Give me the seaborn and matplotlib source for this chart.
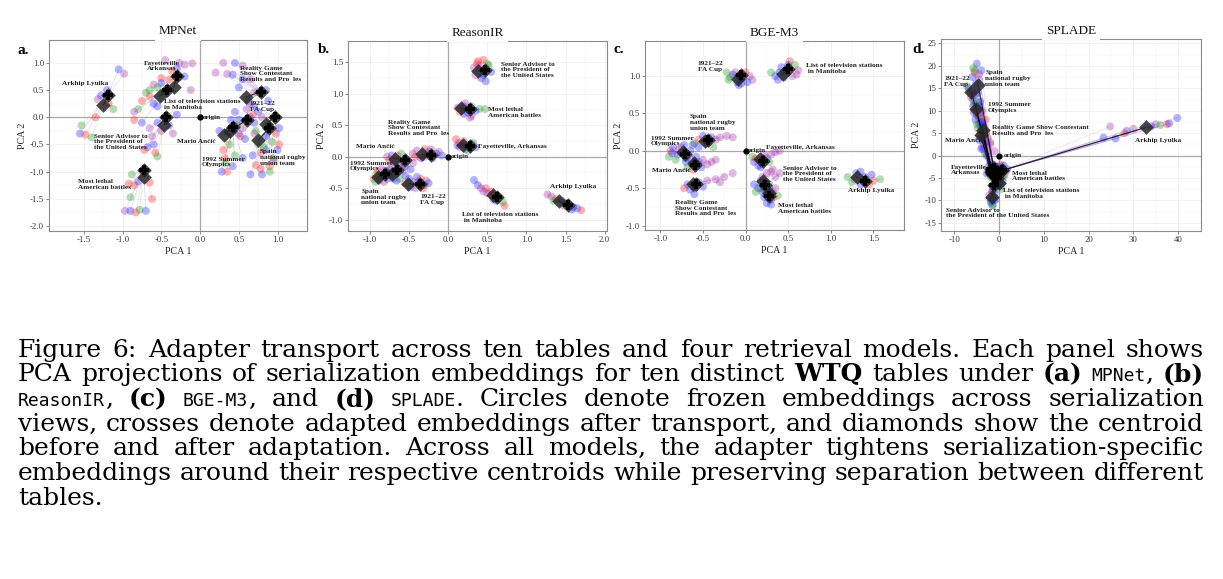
import re
import numpy as np
import pandas as pd
import matplotlib
matplotlib.use("Agg")
import matplotlib.pyplot as plt
import seaborn as sns

# ------------------------------------------------------------------ data
VIEWS = ["r", "g", "b", "p"]   # four serialization views

# table order: Arkhip, Fayetteville, List TV, Senior Advisor, Most lethal,
#              Reality Game, FA Cup, Spain rugby, 1992 Olympics, Mario Ancic

# ---- MPNet
MPNET_BEFORE_X = [-1.25, -0.34, -0.52, -0.46, -0.72, 0.59, 0.85, 0.75, 0.31, 0.39]
MPNET_BEFORE_Y = [0.22, 0.56, 0.39, -0.14, -1.09, 0.37, -0.12, -0.42, -0.33, -0.25]
MPNET_AFTER_X = [-1.19, -0.30, -0.43, -0.44, -0.73, 0.78, 0.97, 0.89, 0.42, 0.60]
MPNET_AFTER_Y = [0.41, 0.75, 0.50, 0.01, -0.97, 0.47, 0.01, -0.20, -0.17, -0.05]
MPNET_PX = [
    [-1.55, -1.53, -1.48, -1.40, -1.32, -1.28, -1.20, -1.05, -0.98, -1.12, -1.35, -1.18],
    [-0.45, -0.27, -0.20, -0.10, -0.30, -0.50, -0.40, -0.20, -0.55, -0.12, -0.36, -0.48],
    [-0.70, -0.65, -0.75, -0.60, -0.55, -0.80, -0.85, -0.75, -0.60, -0.50, -0.65, -0.85],
    [-0.65, -0.62, -0.60, -0.58, -0.55, -0.68, -0.50, -0.35, -0.55, -0.72, -0.40, -0.30],
    [-0.97, -0.90, -0.83, -0.78, -0.70, -0.90, -0.85, -0.80, -0.65, -0.92, -0.62, -0.88],
    [0.30, 0.45, 0.55, 0.35, 0.42, 0.55, 0.65, 0.50, 0.70, 0.85, 0.20, 0.62],
    [0.98, 1.02, 1.00, 0.95, 0.85, 0.90, 1.02, 0.75, 0.80, 0.93, 0.70, 0.88],
    [0.75, 0.82, 0.78, 0.72, 0.80, 0.90, 0.65, 0.85, 0.70, 0.95, 0.78, 0.68],
    [0.30, 0.32, 0.28, 0.35, 0.42, 0.45, 0.38, 0.25, 0.50, 0.55, 0.33, 0.40],
    [0.50, 0.65, 0.55, 0.70, 0.60, 0.45, 0.72, 0.52, 0.65, 0.48, 0.58, 0.68],
]
MPNET_PY = [
    [-0.30, -0.15, -0.32, -0.37, 0.33, 0.40, 0.50, 0.88, 0.80, 0.15, 0.00, 0.25],
    [1.05, 1.00, 0.97, 0.99, 0.90, 0.72, 0.69, 0.75, 0.55, 0.50, 0.85, 0.45],
    [0.45, 0.38, 0.30, 0.25, 0.20, 0.15, -0.05, -0.10, 0.60, 0.63, 0.50, 0.10],
    [-0.20, -0.35, -0.50, -0.65, -0.72, -0.55, -0.25, -0.30, -0.10, -0.60, -0.15, 0.05],
    [-1.72, -1.72, -1.75, -1.70, -1.72, -1.47, -1.25, -1.18, -1.20, -1.22, -1.50, -1.05],
    [1.00, 1.00, 0.95, 0.80, 0.78, 0.70, 0.70, 0.55, 0.45, 0.50, 0.82, 0.30],
    [-0.30, -0.20, -0.60, -0.75, -0.60, -0.90, -0.50, 0.10, 0.00, -0.45, 0.20, 0.30],
    [-0.50, -0.55, -0.65, -0.88, -1.05, -1.00, -1.05, -0.35, -0.30, -0.80, -0.95, -0.70],
    [-0.60, -0.75, -1.00, -1.00, -0.90, -0.70, -0.50, -0.25, -0.30, -0.75, -0.85, -0.05],
    [-0.05, 0.00, -0.20, -0.10, 0.15, 0.10, -0.25, -0.35, 0.25, -0.15, -0.40, 0.05],
]
MPNET_PC = ["bgrgpbbbpgrr", "ppppbrrbgprg", "grrbbgrbpbgp", "ppbrgbppbrbb", "pbrgbgrbrrrg",
            "pbppbbpbpbpb", "rbbgbrrbpgbb", "ggrrbgbbpprb", "rrbrbggbbbgb", "bbpbpbgrpgbr"]
MPNET_LABELS = ["Arkhip Lyulka", "Fayetteville\nArkansas", "List of television stations\nin Manitoba",
                "Senior Advisor to\nthe President of\nthe United States", "Most lethal\nAmerican battles",
                "Reality Game\nShow Contestant\nResults and Pro  les", "1921\u201322\nFA Cup",
                "Spain\nnational rugby\nunion team", "1992 Summer\nOlympics", "Mario An\u010di\u0107"]

# ---- ReasonIR
REASON_BEFORE_X = [1.42, 0.19, 0.57, 0.38, 0.17, -0.34, -0.51, -0.72, -0.90, -0.68]
REASON_BEFORE_Y = [-0.71, 0.19, -0.61, 1.36, 0.77, 0.04, -0.43, -0.27, -0.32, -0.03]
REASON_AFTER_X = [1.53, 0.28, 0.62, 0.47, 0.28, -0.22, -0.36, -0.66, -0.81, -0.55]
REASON_AFTER_Y = [-0.76, 0.17, -0.64, 1.38, 0.76, 0.03, -0.44, -0.21, -0.27, -0.05]
REASON_PX = [
    [1.27, 1.32, 1.38, 1.45, 1.50, 1.55, 1.60, 1.65, 1.70, 1.58, 1.35, 1.48],
    [0.10, 0.14, 0.20, 0.30, 0.35, 0.22, 0.15, 0.25, 0.12, 0.32, 0.28, 0.18],
    [0.33, 0.38, 0.42, 0.48, 0.50, 0.55, 0.62, 0.70, 0.72, 0.65, 0.45, 0.58],
    [0.38, 0.45, 0.50, 0.55, 0.42, 0.35, 0.48, 0.33, 0.52, 0.40, 0.45, 0.37],
    [0.12, 0.20, 0.30, 0.40, 0.47, 0.25, 0.30, 0.15, 0.22, 0.35, 0.20, 0.28],
    [-0.45, -0.40, -0.30, -0.25, -0.15, -0.08, -0.20, -0.35, -0.30, -0.42, -0.22, -0.12],
    [-0.55, -0.50, -0.45, -0.40, -0.35, -0.30, -0.25, -0.42, -0.48, -0.32, -0.38, -0.28],
    [-0.80, -0.75, -0.70, -0.65, -0.60, -0.55, -0.72, -0.62, -0.68, -0.58, -0.78, -0.66],
    [-0.95, -0.92, -0.88, -0.85, -0.80, -0.78, -0.90, -0.82, -0.75, -0.93, -0.85, -0.87],
    [-0.78, -0.72, -0.65, -0.58, -0.52, -0.48, -0.62, -0.70, -0.75, -0.45, -0.60, -0.55],
]
REASON_PY = [
    [-0.60, -0.63, -0.67, -0.70, -0.73, -0.78, -0.80, -0.82, -0.85, -0.84, -0.70, -0.78],
    [0.28, 0.22, 0.25, 0.20, 0.15, 0.12, 0.15, 0.10, 0.18, 0.22, 0.14, 0.20],
    [-0.37, -0.45, -0.50, -0.50, -0.58, -0.55, -0.70, -0.72, -0.78, -0.65, -0.55, -0.68],
    [1.52, 1.54, 1.48, 1.35, 1.25, 1.30, 1.20, 1.42, 1.45, 1.45, 1.30, 1.48],
    [0.78, 0.80, 0.80, 0.76, 0.76, 0.70, 0.65, 0.72, 0.85, 0.73, 0.68, 0.62],
    [0.05, 0.10, 0.12, 0.08, 0.05, 0.02, -0.02, -0.02, 0.00, 0.00, 0.12, 0.08],
    [-0.42, -0.35, -0.40, -0.32, -0.35, -0.45, -0.42, -0.50, -0.48, -0.50, -0.40, -0.38],
    [-0.30, -0.20, -0.35, -0.25, -0.18, -0.30, -0.15, -0.35, -0.28, -0.22, -0.25, -0.38],
    [-0.35, -0.28, -0.38, -0.30, -0.22, -0.35, -0.22, -0.40, -0.28, -0.40, -0.20, -0.33],
    [0.00, 0.02, 0.02, -0.08, -0.05, -0.20, -0.12, -0.08, -0.05, -0.10, 0.05, -0.15],
]
REASON_PC = ["pprbgbbbrbgp", "rrpbbbpgbgpr", "bbprprbgrgpb", "rrgbbpbpgpbr", "pbgggbprpbbp",
             "pprbbbbbprpp", "rbpbrgbpbrbp", "rpbbrbpgrpbb", "rgbpbbrpbgpr", "pbrbbbpbrpgb"]
REASON_LABELS = ["Arkhip Lyulka", "Fayetteville, Arkansas", "List of television stations\n in Manitoba",
                 "Senior Advisor to\nthe President of\nthe United States", "Most lethal\nAmerican battles",
                 "Reality Game\nShow Contestant\nResults and Pro  les", "1921\u201322\nFA Cup",
                 "Spain\nnational rugby\nunion team", "1992 Summer\nOlympics", "Mario An\u010di\u0107"]

# ---- BGE-M3
BGE_BEFORE_X = [1.31, 0.17, 0.44, 0.21, 0.27, -0.62, -0.09, -0.48, -0.73, -0.61]
BGE_BEFORE_Y = [-0.35, -0.11, 1.03, -0.41, -0.57, -0.45, 0.96, 0.13, -0.01, -0.16]
BGE_AFTER_X = [1.40, 0.21, 0.50, 0.23, 0.28, -0.58, -0.05, -0.44, -0.71, -0.59]
BGE_AFTER_Y = [-0.40, -0.14, 1.10, -0.46, -0.61, -0.44, 1.01, 0.15, -0.04, -0.19]
BGE_PX = [
    [1.20, 1.25, 1.30, 1.35, 1.40, 1.45, 1.50, 1.58, 1.35, 1.28, 1.42, 1.48],
    [0.08, 0.10, 0.15, 0.20, 0.25, 0.30, 0.35, 0.40, 0.12, 0.22, 0.28, 0.18],
    [0.30, 0.35, 0.40, 0.45, 0.52, 0.58, 0.62, 0.55, 0.50, 0.42, 0.60, 0.38],
    [0.10, 0.15, 0.20, 0.25, 0.30, 0.35, 0.28, 0.12, 0.22, 0.32, 0.18, 0.40],
    [0.20, 0.22, 0.25, 0.30, 0.32, 0.35, 0.28, 0.38, 0.18, 0.30, 0.24, 0.33],
    [-0.72, -0.68, -0.65, -0.60, -0.55, -0.50, -0.60, -0.45, -0.35, -0.25, -0.15, -0.30],
    [-0.22, -0.18, -0.15, -0.10, -0.05, 0.00, 0.05, 0.08, -0.20, -0.12, 0.02, -0.08],
    [-0.60, -0.55, -0.50, -0.45, -0.40, -0.35, -0.30, -0.22, -0.15, -0.55, -0.38, -0.62],
    [-0.90, -0.88, -0.85, -0.80, -0.75, -0.70, -0.65, -0.82, -0.72, -0.78, -0.68, -0.86],
    [-0.70, -0.65, -0.60, -0.55, -0.50, -0.45, -0.62, -0.68, -0.40, -0.35, -0.58, -0.52],
]
BGE_PY = [
    [-0.35, -0.42, -0.30, -0.28, -0.35, -0.45, -0.40, -0.38, -0.45, -0.38, -0.42, -0.32],
    [-0.08, -0.15, -0.20, -0.18, -0.10, -0.05, -0.02, 0.00, -0.10, -0.05, -0.15, -0.22],
    [1.05, 1.00, 1.05, 0.98, 1.20, 1.15, 1.08, 1.00, 1.15, 1.12, 1.02, 0.95],
    [-0.45, -0.50, -0.35, -0.30, -0.28, -0.35, -0.45, -0.55, -0.52, -0.25, -0.40, -0.30],
    [-0.55, -0.62, -0.70, -0.65, -0.55, -0.50, -0.50, -0.60, -0.50, -0.72, -0.48, -0.62],
    [-0.50, -0.45, -0.52, -0.50, -0.42, -0.48, -0.58, -0.40, -0.38, -0.35, -0.30, -0.42],
    [1.05, 0.98, 1.02, 0.92, 0.90, 1.05, 1.00, 0.95, 0.95, 1.05, 0.92, 0.88],
    [0.10, 0.15, 0.20, 0.10, 0.18, 0.15, 0.18, 0.20, 0.18, 0.05, 0.05, 0.08],
    [-0.08, 0.00, 0.05, -0.05, 0.05, -0.10, 0.00, -0.12, 0.08, 0.02, -0.06, -0.03],
    [-0.15, -0.10, -0.20, -0.15, -0.12, -0.18, -0.25, -0.22, -0.15, -0.12, -0.08, -0.22],
]
BGE_PC = ["ggbbbrrgbppb", "gbbbbppprpgb", "gbbbrgppbbpb", "bbppppggbpbp", "bbbbppbggbpr",
          "rbbbbbbppppp", "ggbbbrppgpbb", "grbbbppppbgb", "grbbpbbgbprb", "bbbbpprgppbb"]
BGE_LABELS = ["Arkhip Lyulka", "Fayetteville, Arkansas", "List of television stations\n in Manitoba",
              "Senior Advisor to\nthe President of\nthe United States", "Most lethal\nAmerican battles",
              "Reality Game\nShow Contestant\nResults and Pro  les", "1921\u201322\nFA Cup",
              "Spain\nnational rugby\nunion team", "1992 Summer\nOlympics", "Mario An\u010di\u0107"]

# ---- SPLADE
SPLADE_BEFORE_X = [32.8, -1.7, 0.0, -1.6, 0.7, -3.6, -6.2, -4.7, -5.1, -4.1]
SPLADE_BEFORE_Y = [6.3, -3.3, -6.0, -9.2, -3.2, 5.7, 14.1, 15.8, 10.3, 4.6]
SPLADE_AFTER_X = [0.7, -0.9, -0.5, -1.2, 0.2, -1.8, -1.5, -1.2, -1.6, -1.9]
SPLADE_AFTER_Y = [-3.3, -3.9, -5.0, -6.5, -3.6, -3.0, -3.5, -2.8, -4.0, -3.6]
SPLADE_PX = [
    [24.8, 23.3, 26.0, 28.5, 30.0, 28.0, 35.0, 37.5, 38.0, 39.8, 36.0, 34.0],
    [-2.5, -2.0, -1.5, -1.0, -2.2, -0.5, -1.8, -1.2, -2.8, -0.2, -1.5, -2.0],
    [-0.5, 0.3, -0.2, 0.5, -1.0, 0.2, -0.8, 0.8, -1.5, -0.3, 0.0, 0.6],
    [-1.8, -1.5, -2.0, -1.2, -1.0, -1.6, -2.2, -1.4, -0.8, -1.9, -1.3, -1.7],
    [0.0, 1.0, 1.5, 0.5, -0.5, 1.2, 0.2, 0.8, -0.3, 1.8, 0.4, 1.0],
    [-4.5, -3.5, -3.0, -2.5, -4.2, -3.8, -3.0, -4.8, -3.3, -2.0, -4.0, -3.5],
    [-7.2, -6.8, -6.0, -5.5, -5.8, -5.2, -6.5, -5.0, -4.5, -4.0, -6.3, -5.6],
    [-5.0, -5.8, -4.0, -5.5, -6.0, -4.5, -5.2, -4.8, -4.2, -3.8, -5.5, -4.5],
    [-5.8, -5.0, -4.5, -5.3, -4.2, -5.6, -4.0, -4.8, -3.5, -5.0, -4.4, -5.4],
    [-4.5, -3.8, -3.5, -4.2, -3.0, -2.5, -1.0, -3.2, -4.0, -2.0, -3.6, -2.8],
]
SPLADE_PY = [
    [6.5, 4.0, 3.8, 5.5, 6.0, 5.0, 7.0, 7.0, 7.2, 8.4, 6.8, 6.5],
    [-2.5, -4.0, -5.0, -3.0, -3.5, -2.5, -4.8, -2.0, -4.0, -4.5, -3.8, -1.5],
    [-5.5, -5.0, -6.5, -6.8, -7.0, -7.5, -5.2, -5.8, -8.0, -4.5, -6.2, -4.8],
    [-10.5, -11.0, -9.5, -10.0, -8.5, -8.0, -8.8, -11.2, -9.8, -10.2, -7.5, -9.0],
    [-2.5, -2.2, -3.5, -4.0, -3.0, -4.2, -3.6, -2.8, -4.2, -3.0, -2.0, -4.8],
    [7.0, 6.5, 5.0, 4.0, 4.5, 3.5, 8.0, 6.0, 2.5, 2.5, 7.5, 4.2],
    [15.5, 15.0, 14.5, 13.5, 12.5, 12.0, 14.0, 11.0, 9.0, 7.0, 13.0, 11.5],
    [20.5, 19.5, 19.0, 18.5, 17.5, 17.0, 16.0, 14.0, 12.0, 10.0, 19.0, 18.2],
    [11.0, 9.0, 8.5, 8.0, 9.5, 9.5, 7.5, 10.5, 6.5, 7.0, 11.0, 10.0],
    [3.5, 2.0, 1.5, 5.0, 3.0, 1.0, 1.0, 0.5, 1.5, 3.0, 4.0, 0.0],
]
SPLADE_PC = ["pbbbprprbbgb", "pbgbrbgpbbrb", "bbgbbgpbbrpb", "gbbbbrpgbbbg", "bbpbgrpbbbpg",
             "bbrpbbrgppbg", "gbbbbgrbbbpg", "bgbrbpbbbpgp", "bgrbpbbgbgbr", "bpbrbppgbprb"]
SPLADE_LABELS = ["Arkhip Lyulka", "Fayetteville\nArkansas", "List of television stations\n in Manitoba",
                 "Senior Advisor to\nthe President of the United States", "Most lethal\nAmerican battles",
                 "Reality Game Show Contestant\nResults and Pro  les", "1921\u201322\nFA Cup",
                 "Spain\nnational rugby\nunion team", "1992 Summer\nOlympics", "Mario An\u010di\u0107"]

PANEL_TITLES = ["MPNet", "ReasonIR", "BGE-M3", "SPLADE"]
PANEL_LETTERS = ["a.", "b.", "c.", "d."]
X_TICKS = [[-1.5, -1.0, -0.5, 0.0, 0.5, 1.0], [-1.0, -0.5, 0.0, 0.5, 1.0, 1.5, 2.0],
           [-1.0, -0.5, 0.0, 0.5, 1.0, 1.5], [-10, 0, 10, 20, 30, 40]]
Y_TICKS = [[-2.0, -1.5, -1.0, -0.5, 0.0, 0.5, 1.0], [-1.0, -0.5, 0.0, 0.5, 1.0, 1.5],
           [-1.0, -0.5, 0.0, 0.5, 1.0], [-15, -10, -5, 0, 5, 10, 15, 20, 25]]

CAPTION_LINES = [
    "Figure 6: Adapter transport across ten tables and four retrieval models. Each panel shows",
    "PCA projections of serialization embeddings for ten distinct **WTQ** tables under **(a)** `MPNet`, **(b)**",
    "`ReasonIR`, **(c)** `BGE-M3`, and **(d)** `SPLADE`. Circles denote frozen embeddings across serialization",
    "views, crosses denote adapted embeddings after transport, and diamonds show the centroid",
    "before and after adaptation. Across all models, the adapter tightens serialization-specific",
    "embeddings around their respective centroids while preserving separation between different",
    "tables.",
]

# ------------------------------------------------------------------ layout (not data)
W_PX, H_PX = 1223, 579
AX_BOX_PX = [(49, 40, 307, 231), (348, 41, 607, 231), (645, 41, 904, 230), (941, 39, 1201, 231)]
XLIMS = [(-1.95, 1.38), (-1.28, 2.03), (-1.18, 1.86), (-13.0, 45.1)]
YLIMS = [(-2.09, 1.42), (-1.18, 1.84), (-1.06, 1.47), (-16.8, 26.0)]
LETTER_PX = [(18, 54), (318, 53), (613, 53), (912, 53)]
LABEL_POS = [
    [(-1.78, 0.62, "left"), (-0.50, 0.945, "center"), (-0.46, 0.24, "left"), (-1.37, -0.45, "left"),
     (-1.58, -1.23, "left"), (0.51, 0.80, "left"), (0.64, 0.20, "left"), (0.77, -0.74, "left"),
     (0.02, -0.82, "left"), (-0.30, -0.45, "left")],
    [(1.30, -0.48, "left"), (0.38, 0.16, "left"), (0.18, -0.97, "left"), (0.68, 1.38, "left"),
     (0.51, 0.70, "left"), (-0.77, 0.46, "left"), (-0.36, -0.68, "left"), (-1.11, -0.64, "left"),
     (-1.26, -0.15, "left"), (-1.18, 0.16, "left")],
    [(1.20, -0.53, "left"), (0.24, 0.05, "left"), (0.71, 1.10, "left"), (0.44, -0.31, "left"),
     (0.38, -0.77, "left"), (-0.83, -0.77, "left"), (-0.56, 1.13, "left"), (-0.65, 0.38, "left"),
     (-1.11, 0.13, "left"), (-1.10, -0.27, "left")],
    [(30.4, 3.3, "left"), (-10.7, -3.2, "left"), (0.75, -8.5, "left"), (-11.8, -12.8, "left"),
     (2.8, -4.5, "left"), (-1.5, 5.6, "left"), (-12.3, 16.5, "left"), (-3.1, 17.2, "left"),
     (-2.5, 10.7, "left"), (-12.0, 3.3, "left")],
]
ORIGIN_DX = [0.03, 0.03, 0.03, 1.0]

VIEW_COLORS = {"r": "#ff2a2a", "g": "#2e9e2e", "b": "#2a2aff", "p": "#a83aa8"}

sns.set_theme(style="white")
plt.rcParams["font.family"] = ["Liberation Serif", "DejaVu Serif"]
plt.rcParams["axes.unicode_minus"] = False

fig = plt.figure(figsize=(W_PX / 100, H_PX / 100), dpi=100)
fig.patch.set_facecolor("white")

PANELS = [
    (MPNET_BEFORE_X, MPNET_BEFORE_Y, MPNET_AFTER_X, MPNET_AFTER_Y, MPNET_PX, MPNET_PY, MPNET_PC, MPNET_LABELS),
    (REASON_BEFORE_X, REASON_BEFORE_Y, REASON_AFTER_X, REASON_AFTER_Y, REASON_PX, REASON_PY, REASON_PC, REASON_LABELS),
    (BGE_BEFORE_X, BGE_BEFORE_Y, BGE_AFTER_X, BGE_AFTER_Y, BGE_PX, BGE_PY, BGE_PC, BGE_LABELS),
    (SPLADE_BEFORE_X, SPLADE_BEFORE_Y, SPLADE_AFTER_X, SPLADE_AFTER_Y, SPLADE_PX, SPLADE_PY, SPLADE_PC, SPLADE_LABELS),
]


def fmt(v, integer):
    return f"{int(v)}" if integer else f"{v:.1f}"


for k, (bx, by, axx, ayy, px, py, pc, labels) in enumerate(PANELS):
    l, t, r, b = AX_BOX_PX[k]
    ax = fig.add_axes([l / W_PX, 1 - b / H_PX, (r - l) / W_PX, (b - t) / H_PX])
    ax.set_facecolor("white")

    rows = []
    for i in range(len(px)):
        for x, y, c in zip(px[i], py[i], pc[i]):
            rows.append({"x": x, "y": y, "view": c, "table": i})
    df = pd.DataFrame(rows)

    # faint links frozen -> adapted
    for _, row in df.iterrows():
        i = int(row["table"])
        ax.plot([row["x"], axx[i]], [row["y"], ayy[i]], color=VIEW_COLORS[row["view"]],
                alpha=0.16, lw=0.6, zorder=2, solid_capstyle="round")

    sns.scatterplot(data=df, x="x", y="y", hue="view", hue_order=VIEWS, palette=VIEW_COLORS,
                    s=33, alpha=0.36, linewidth=0, legend=False, ax=ax, zorder=3)

    cdf = pd.DataFrame({"x": list(bx) + list(axx), "y": list(by) + list(ayy),
                        "kind": ["before"] * len(bx) + ["after"] * len(axx)})
    for i in range(len(bx)):
        ax.plot([bx[i], axx[i]], [by[i], ayy[i]], color="black", lw=0.9, alpha=0.75, zorder=4)
    sns.scatterplot(data=cdf, x="x", y="y", marker="D", color="#262626", s=55, alpha=0.85,
                    linewidth=0, legend=False, ax=ax, zorder=5)
    sns.scatterplot(x=axx, y=ayy, marker="P", color="black", s=50, linewidth=0,
                    legend=False, ax=ax, zorder=6)

    ax.axhline(0, color="#a8a8a8", lw=0.9, zorder=1)
    ax.axvline(0, color="#a8a8a8", lw=0.9, zorder=1)
    ax.scatter([0], [0], s=12, color="black", zorder=7)
    ax.text(ORIGIN_DX[k], 0, "origin", fontsize=5, fontweight="bold", ha="left", va="center",
            color="#222222", zorder=8)

    for lab, (lx, ly, ha) in zip(labels, LABEL_POS[k]):
        ax.text(lx, ly, lab, fontsize=5.2, fontweight="bold", ha=ha, va="center",
                multialignment="left" if ha == "left" else "center",
                linespacing=1.15, color="#222222", zorder=8)

    ax.set_xlim(*XLIMS[k])
    ax.set_ylim(*YLIMS[k])
    integer = k == 3
    xt, yt = X_TICKS[k], Y_TICKS[k]
    ax.set_xticks(xt)
    ax.set_xticklabels([fmt(v, integer) for v in xt])
    ax.set_yticks(yt)
    ax.set_yticklabels([fmt(v, integer) for v in yt])
    ax.set_xticks([(a + c) / 2 for a, c in zip(xt[:-1], xt[1:])], minor=True)
    ax.set_yticks([(a + c) / 2 for a, c in zip(yt[:-1], yt[1:])], minor=True)
    ax.tick_params(which="major", bottom=True, left=True, length=2, width=0.5, color="#555555",
                   labelsize=6.3, pad=1.5, labelcolor="#333333")
    ax.tick_params(which="minor", length=0)
    ax.grid(True, which="major", color="#ececec", lw=0.5)
    ax.grid(True, which="minor", color="#f5f5f5", lw=0.35)
    ax.set_axisbelow(True)
    for s in ax.spines.values():
        s.set_visible(True)
        s.set_color("#8a8a8a")
        s.set_linewidth(0.8)
    ax.set_xlabel("PCA 1", fontsize=7.2, labelpad=2, color="#222222")
    ax.set_ylabel("PCA 2", fontsize=7.2, labelpad=2, color="#222222")

    ax.text(0.5, 1 + 8.5 / (b - t), PANEL_TITLES[k], transform=ax.transAxes, ha="center",
            va="center", fontsize=9.5, color="#111111", zorder=10, clip_on=False,
            bbox=dict(facecolor="white", edgecolor="none", boxstyle="square,pad=0.3"))
    lx, ly = LETTER_PX[k]
    fig.text(lx / W_PX, 1 - ly / H_PX, PANEL_LETTERS[k], fontsize=11, fontweight="bold",
             va="baseline", ha="left", color="black")

# ------------------------------------------------------------------ caption (justified)
SERIF_MAX = 19.0
MONO_RATIO = 0.72


def style_kw(st, size):
    if st == "mono":
        return dict(fontfamily="DejaVu Sans Mono", fontsize=size * MONO_RATIO)
    if st == "bold":
        return dict(fontfamily="DejaVu Serif", fontsize=size, fontweight="bold")
    return dict(fontfamily="DejaVu Serif", fontsize=size)


def parse_word(word):
    segs = []
    for m in re.finditer(r"\*\*(.+?)\*\*|`(.+?)`|([^*`]+)", word):
        if m.group(1):
            segs.append((m.group(1), "bold"))
        elif m.group(2):
            segs.append((m.group(2), "mono"))
        else:
            segs.append((m.group(3), "normal"))
    return segs


renderer = fig.canvas.get_renderer()
CAP_LEFT, CAP_RIGHT = 18, 1204
BASE0, LINE_STEP = 356.7, 24.67
AVAIL = CAP_RIGHT - CAP_LEFT


def measure(txt, st, size):
    tt = fig.text(0, 0, txt, **style_kw(st, size))
    w = tt.get_window_extent(renderer).width
    tt.remove()
    return w


# pick the largest size for which every justified line fits with normal spaces
BASE_SIZE = 10.0
size = SERIF_MAX
for line in CAPTION_LINES[:-1]:
    words = line.split(" ")
    wsum = sum(measure(txt, st, BASE_SIZE) for w in words for txt, st in parse_word(w))
    per_pt = wsum / BASE_SIZE + (len(words) - 1) * 0.30 * 100 / 72
    size = min(size, AVAIL / per_pt)

for li, line in enumerate(CAPTION_LINES):
    base = 1 - (BASE0 + li * LINE_STEP) / H_PX
    words = []
    for w in line.split(" "):
        items = []
        for txt, st in parse_word(w):
            tt = fig.text(0, base, txt, va="baseline", ha="left", color="black", **style_kw(st, size))
            wd = tt.get_window_extent(renderer).width
            items.append((tt, wd))
        words.append(items)
    widths = [sum(wd for _, wd in items) for items in words]
    total = sum(widths)
    if li < len(CAPTION_LINES) - 1 and len(words) > 1:
        gap = (AVAIL - total) / (len(words) - 1)
    else:
        gap = 0.3 * size * 100 / 72
    x = CAP_LEFT
    for items, wsum in zip(words, widths):
        xx = x
        for tt, wd in items:
            tt.set_x(xx / W_PX)
            xx += wd
        x += wsum + gap

fig.savefig("out.png", dpi=100, facecolor="white")
